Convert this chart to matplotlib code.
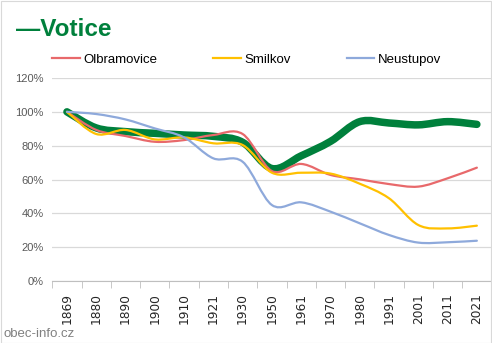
import matplotlib
matplotlib.use("Agg")
import matplotlib.pyplot as plt
from matplotlib.path import Path
from matplotlib.patches import PathPatch, Rectangle
from matplotlib.lines import Line2D
from matplotlib.ticker import FixedLocator, PercentFormatter

plt.rcParams["font.family"] = ["Liberation Sans", "DejaVu Sans"]

years = ["1869", "1880", "1890", "1900", "1910", "1921", "1930", "1950",
         "1961", "1970", "1980", "1991", "2001", "2011", "2021"]
votice = [100, 90.5, 88.3, 87.3, 86.3, 85.5, 82.0, 66.5, 74.0, 82.5, 94.2, 93.4, 92.3, 94.2, 92.6]
olbramovice = [100, 89.3, 85.7, 82.3, 83.3, 86.3, 86.9, 65.0, 69.2, 62.7, 60.1, 57.3, 55.8, 60.7, 67.0]
smilkov = [100, 86.9, 89.3, 83.7, 84.9, 81.4, 80.4, 64.0, 64.0, 63.5, 57.5, 48.9, 33.1, 31.1, 32.7]
neustupov = [100, 98.7, 95.5, 90.2, 84.9, 72.5, 70.5, 44.9, 46.5, 41.0, 34.1, 27.2, 22.7, 22.9, 23.8]

names = ["Olbramovice", "Smilkov", "Neustupov"]
colors = ["#E8696B", "#FFC000", "#8EA9DB"]
green = "#00803C"


def smooth_path(vals):
    # Excel-like smoothed line: cubic bezier through the data points
    pts = [(i, v / 100) for i, v in enumerate(vals)]
    verts = [pts[0]]
    codes = [Path.MOVETO]
    n = len(pts)
    for i in range(n - 1):
        p0 = pts[max(i - 1, 0)]
        p1 = pts[i]
        p2 = pts[i + 1]
        p3 = pts[min(i + 2, n - 1)]
        c1 = (p1[0] + (p2[0] - p0[0]) / 6, p1[1] + (p2[1] - p0[1]) / 6)
        c2 = (p2[0] - (p3[0] - p1[0]) / 6, p2[1] - (p3[1] - p1[1]) / 6)
        verts += [c1, c2, p2]
        codes += [Path.CURVE4] * 3
    return Path(verts, codes)


fig = plt.figure(figsize=(4.92, 3.43), dpi=100)
ax = fig.add_axes([52.3 / 492, 1 - 281 / 343, (491.5 - 52.3) / 492, 203 / 343])

ax.add_patch(PathPatch(smooth_path(votice), fill=False, ec=green, lw=5.4,
                       capstyle="round", joinstyle="round", zorder=2))
for vals, c in zip([olbramovice, smilkov, neustupov], colors):
    ax.add_patch(PathPatch(smooth_path(vals), fill=False, ec=c, lw=1.6,
                           capstyle="round", zorder=3))

ax.set_xlim(-0.5, len(years) - 0.5)
ax.set_ylim(0, 1.2)
ax.set_yticks([0, 0.2, 0.4, 0.6, 0.8, 1.0, 1.2])
ax.yaxis.set_major_formatter(PercentFormatter(1.0, decimals=0))
ax.grid(axis="y", color="#D9D9D9", lw=0.9)
ax.set_axisbelow(True)
for s in ["top", "right", "left"]:
    ax.spines[s].set_visible(False)
ax.spines["bottom"].set_color("#BFBFBF")
ax.spines["bottom"].set_zorder(1)

ax.set_xticks(range(len(years)))
ax.set_xticklabels(years, rotation=90, family="DejaVu Sans", fontsize=8.7, color="#262626")
ax.xaxis.set_minor_locator(FixedLocator([i - 0.5 for i in range(len(years) + 1)]))
ax.tick_params(axis="x", which="major", length=0, pad=9)
ax.tick_params(axis="x", which="minor", length=5, color="#BFBFBF")
ax.tick_params(axis="y", length=0, labelsize=8, labelcolor="#595959", pad=6)

handles = [Line2D([], [], color=c, lw=1.6) for c in colors]
fig.legend(handles, names, loc="center left", bbox_to_anchor=(52 / 492, 1 - 60 / 343),
           ncol=3, frameon=False, fontsize=9.5, handlelength=2.1, handletextpad=0.3,
           columnspacing=4.2, borderaxespad=0, borderpad=0)

fig.text(16 / 492, 1 - 30 / 343, "\u2014Votice", fontsize=17.5, fontweight="bold",
         color=green, va="center", ha="left")
fig.text(3 / 492, 1 - 334 / 343, "obec-info.cz", fontsize=9.5, color="#808080",
         va="center", ha="left")

fig.add_artist(Rectangle((0.5 / 492, 0.5 / 343), 490.5 / 492, 341.5 / 343,
                         transform=fig.transFigure, fill=False, ec="#D9D9D9", lw=0.8))

fig.savefig("out.png", dpi=100)
